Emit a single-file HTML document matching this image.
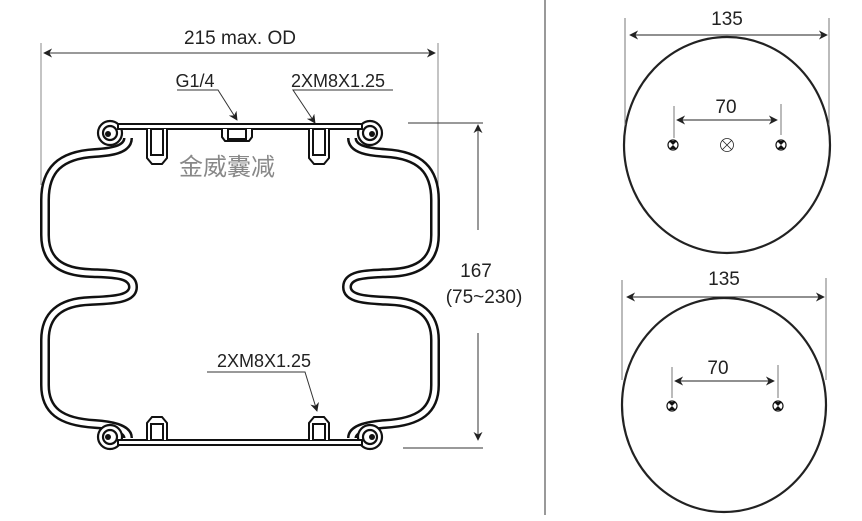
<!DOCTYPE html>
<html><head><meta charset="utf-8"><style>
html,body{margin:0;padding:0;background:#fff;}
svg{display:block;font-family:"Liberation Sans","Noto Sans CJK SC",sans-serif;}
</style></head><body>
<svg width="862" height="521" viewBox="0 0 862 521" xmlns="http://www.w3.org/2000/svg">
<defs>
<marker id="ar" viewBox="0 0 10 10" refX="9" refY="5" markerWidth="9" markerHeight="9" orient="auto-start-reverse" markerUnits="userSpaceOnUse">
<path d="M0,0 L10,5 L0,10 L3,5 Z" fill="#222"/></marker>
<g id="hole"><circle r="5" fill="#fff" stroke="#111" stroke-width="1.2"/><path d="M-4,-4 L0,0 L4,-4 Z M-4,4 L0,0 L4,4 Z" fill="#111"/></g>
<path id="band" d="M128,138 C128,150 110,152 95,153 C60,155 45,170 45,200 L45,235 C45,260 60,272 90,273 C110,274 133,273 133,287 C133,300 110,300 90,301 C60,302 45,315 45,340 L45,385 C45,410 60,422 95,424 C110,425 128,428 128,438 M352,138 C352,150 370,152 385,153 C420,155 435,170 435,200 L435,235 C435,260 420,272 390,273 C370,274 347,273 347,287 C347,300 370,300 390,301 C420,302 435,315 435,340 L435,385 C435,410 420,422 385,424 C370,425 352,428 352,438"/>
</defs>
<g stroke="#333" stroke-width="1" fill="none">
<line x1="545" y1="0" x2="545" y2="515"/>
<line x1="41" y1="43" x2="41" y2="185" stroke="#888"/>
<line x1="438" y1="43" x2="438" y2="185" stroke="#888"/>
<line x1="44" y1="53" x2="435" y2="53" marker-start="url(#ar)" marker-end="url(#ar)"/>
<line x1="408" y1="123" x2="483" y2="123"/>
<line x1="403" y1="448" x2="483" y2="448"/>
<line x1="478" y1="125" x2="478" y2="230" marker-start="url(#ar)"/>
<line x1="478" y1="333" x2="478" y2="440" marker-end="url(#ar)"/>
<polyline points="177,90 218,90 237,120" marker-end="url(#ar)"/>
<polyline points="393,90 293,90 315,123" marker-end="url(#ar)"/>
<polyline points="207,372 305,372 317,411" marker-end="url(#ar)"/>
</g>
<g font-size="19" fill="#222">
<text x="240" y="44" text-anchor="middle">215 max. OD</text>
<text x="195" y="87" text-anchor="middle" font-size="18">G1/4</text>
<text x="338" y="87" text-anchor="middle" font-size="18">2XM8X1.25</text>
<text x="264" y="367" text-anchor="middle" font-size="18">2XM8X1.25</text>
<text x="476" y="277" text-anchor="middle">167</text>
<text x="484" y="303" text-anchor="middle">(75~230)</text>
</g>
<text x="179" y="175" font-size="24" fill="#888">金威囊减</text>
<g fill="none" stroke-linejoin="round">
<use href="#band" stroke="#111" stroke-width="10"/>
<use href="#band" stroke="#fff" stroke-width="5"/>
</g>
<g stroke="#111" stroke-width="2.2" fill="#fff">
<circle cx="110" cy="133" r="12"/><circle cx="110" cy="133" r="7"/>
<circle cx="370" cy="133" r="12"/><circle cx="370" cy="133" r="7"/>
<circle cx="110" cy="437" r="12"/><circle cx="110" cy="437" r="7"/>
<circle cx="370" cy="437" r="12"/><circle cx="370" cy="437" r="7"/>
</g>
<g fill="#111"><circle cx="108" cy="134" r="3"/><circle cx="372" cy="134" r="3"/><circle cx="108" cy="437" r="3"/><circle cx="372" cy="437" r="3"/></g>
<g stroke="#111" stroke-width="2" fill="#fff">
<rect x="118" y="124" width="244" height="5"/>
<rect x="118" y="440" width="244" height="5"/>
<path d="M147,129 V158 L152,164 H162 L167,158 V129"/><rect x="151" y="129" width="12" height="26"/>
<path d="M309,129 V158 L314,164 H324 L329,158 V129"/><rect x="313" y="129" width="12" height="26"/>
<path d="M222,129 V137 L225,141 H249 L252,137 V129"/><rect x="228" y="129" width="18" height="10"/>
<path d="M147,440 V423 L152,417 H162 L167,423 V440"/><rect x="151" y="424" width="12" height="16"/>
<path d="M309,440 V423 L314,417 H324 L329,423 V440"/><rect x="313" y="424" width="12" height="16"/>
</g>
<g fill="none" stroke="#222">
<ellipse cx="727" cy="145" rx="103" ry="108" stroke-width="2.2"/>
<ellipse cx="724" cy="405" rx="102" ry="107" stroke-width="2.2"/>
<g stroke="#777" stroke-width="1">
<line x1="625" y1="18" x2="625" y2="125"/><line x1="829" y1="18" x2="829" y2="125"/>
<line x1="674" y1="106" x2="674" y2="138"/><line x1="781" y1="104" x2="781" y2="135"/>
<line x1="622" y1="280" x2="622" y2="380"/><line x1="826" y1="278" x2="826" y2="380"/>
<line x1="672" y1="367" x2="672" y2="398"/><line x1="778" y1="365" x2="778" y2="398"/>
</g>
<line x1="630" y1="35" x2="827" y2="35" stroke-width="1" marker-start="url(#ar)" marker-end="url(#ar)"/>
<line x1="677" y1="120" x2="777" y2="120" stroke-width="1" marker-start="url(#ar)" marker-end="url(#ar)"/>
<line x1="627" y1="297" x2="824" y2="297" stroke-width="1" marker-start="url(#ar)" marker-end="url(#ar)"/>
<line x1="675" y1="381" x2="774" y2="381" stroke-width="1" marker-start="url(#ar)" marker-end="url(#ar)"/>
<circle cx="727" cy="145" r="6.5" stroke-width="0.8"/>
<path d="M722.5,140.5 L731.5,149.5 M731.5,140.5 L722.5,149.5" stroke-width="0.8"/>
</g>
<use href="#hole" x="673" y="145"/><use href="#hole" x="781" y="145"/>
<use href="#hole" x="672" y="406"/><use href="#hole" x="778" y="406"/>
<g font-size="19" fill="#222" text-anchor="middle">
<text x="727" y="25">135</text><text x="724" y="285">135</text>
<text x="726" y="113">70</text><text x="718" y="374">70</text>
</g>
</svg>
</body></html>
